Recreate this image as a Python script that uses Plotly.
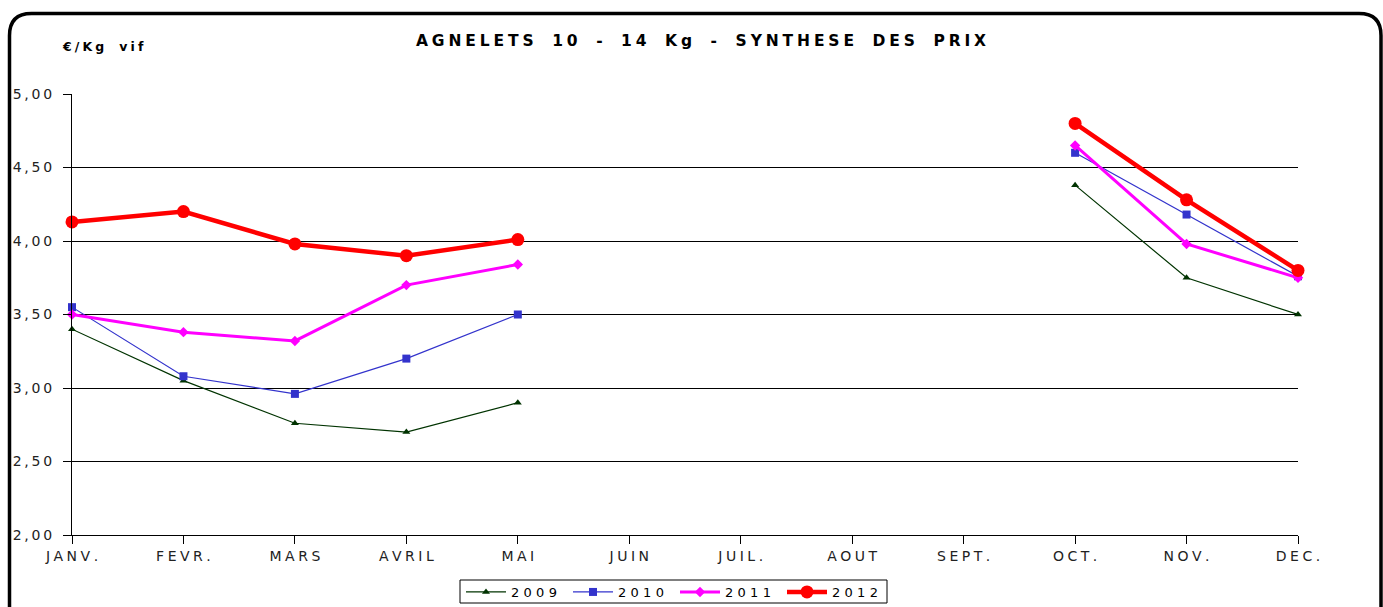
import plotly.graph_objects as go

months = ["JANV.", "FEVR.", "MARS", "AVRIL", "MAI", "JUIN", "JUIL.", "AOUT", "SEPT.", "OCT.", "NOV.", "DEC."]
years = ["2009", "2010", "2011", "2012"]
v2009 = [3.40, 3.05, 2.76, 2.70, 2.90, None, None, None, None, 4.38, 3.75, 3.50]
v2010 = [3.55, 3.08, 2.96, 3.20, 3.50, None, None, None, None, 4.60, 4.18, 3.76]
v2011 = [3.50, 3.38, 3.32, 3.70, 3.84, None, None, None, None, 4.65, 3.98, 3.75]
v2012 = [4.13, 4.20, 3.98, 3.90, 4.01, None, None, None, None, 4.80, 4.28, 3.80]
y_ticks = [2.0, 2.5, 3.0, 3.5, 4.0, 4.5, 5.0]
title_text = "AGNELETS 10 - 14 Kg - SYNTHESE DES PRIX"
unit_text = "€/Kg vif"

W, H = 1383, 607
ML, MR, MT, MB = 72, W - 1298, 94, H - 535
PW, PH = W - ML - MR, H - MT - MB


def spaced(s, sep="\u2004", word="\u00a0\u00a0\u00a0"):
    out = []
    for ch in s:
        out.append(word if ch == " " else ch)
    return sep.join(out)


def P(xpx, ypx):
    return (xpx - ML) / PW, 1 - (ypx - MT) / PH


FONT = "DejaVu Sans"

styles = {
    "2009": dict(color="#003300", width=1.2, symbol="triangle-up", size=7),
    "2010": dict(color="#3333CC", width=1.2, symbol="square", size=8),
    "2011": dict(color="#FF00FF", width=3, symbol="diamond", size=8),
    "2012": dict(color="#FF0000", width=4.5, symbol="circle", size=13),
}
series = {"2009": v2009, "2010": v2010, "2011": v2011, "2012": v2012}

fig = go.Figure()
for yr in years:
    st = styles[yr]
    fig.add_trace(go.Scatter(
        x=months, y=series[yr], name=spaced(yr), mode="lines+markers",
        line=dict(color=st["color"], width=st["width"]),
        marker=dict(symbol=st["symbol"], size=st["size"], color=st["color"]),
        connectgaps=False, cliponaxis=False,
    ))

# rounded border
x0, y0 = P(9.5, 13.5)
x1, _ = P(1381, 13.5)
_, yb = P(0, 660)
rx = 22 / PW
ry = 22 / PH
path = (f"M {x0},{yb} L {x0},{y0 - ry} Q {x0},{y0} {x0 + rx},{y0} "
        f"L {x1 - rx},{y0} Q {x1},{y0} {x1},{y0 - ry} L {x1},{yb}")

lx0, ly0 = P(460, 580)
lx1, ly1 = P(887, 603)

tx, ty = P(701, 41)
ux, uy = P(60, 46)

fig.update_layout(
    width=W, height=H,
    margin=dict(l=ML, r=MR, t=MT, b=MB, autoexpand=False),
    paper_bgcolor="white", plot_bgcolor="white",
    font=dict(family=FONT, size=13, color="#000000"),
    showlegend=True,
    legend=dict(orientation="h", x=P(675, 0)[0], xanchor="center", y=P(0, 577)[1], yanchor="top",
                borderwidth=0, bgcolor="rgba(0,0,0,0)", font=dict(size=13, family=FONT),
                itemwidth=40, entrywidth=52, entrywidthmode="pixels",
                tracegroupgap=0, traceorder="normal"),
    shapes=[
        dict(type="path", path=path, xref="paper", yref="paper",
             line=dict(color="#000000", width=3.5), layer="above"),
        dict(type="rect", x0=lx0, y0=ly0, x1=lx1, y1=ly1, xref="paper", yref="paper",
             line=dict(color="#000000", width=1), layer="above"),
    ],
    annotations=[
        dict(text="<b>" + spaced(title_text, sep="\u2005", word="\u00a0\u00a0") + "</b>", x=tx, y=ty,
             xref="paper", yref="paper", xanchor="center", yanchor="middle", showarrow=False,
             font=dict(size=15.5, family=FONT)),
        dict(text="<b>" + spaced(unit_text, sep="\u2005", word="\u00a0\u00a0") + "</b>", x=ux, y=uy,
             xref="paper", yref="paper", xanchor="left", yanchor="middle", showarrow=False,
             font=dict(size=12.5, family=FONT)),
    ],
)

fig.update_xaxes(
    type="category", range=[0, 11], tickvals=months, ticktext=[spaced(m, sep="\u2005") for m in months],
    showgrid=False, showline=True, linecolor="#000000", linewidth=1,
    ticks="outside", ticklen=8, tickcolor="#000000", tickfont=dict(size=14, family=FONT, color="#222"),
    zeroline=False,
)
fig.update_yaxes(
    range=[2, 5], tickvals=y_ticks,
    ticktext=[spaced(f"{v:.2f}".replace(".", ","), sep="\u2009") for v in y_ticks],
    showgrid=True, gridcolor="#000000", gridwidth=1,
    showline=True, linecolor="#000000", linewidth=1,
    ticks="outside", ticklen=8, tickcolor="#000000", tickfont=dict(size=14, family=FONT, color="#222"),
    ticklabelstandoff=8,
    zeroline=False,
)

fig.write_html("out.html", config={"displayModeBar": False},
               post_script="document.body.style.margin='0';document.body.style.overflow='hidden';")
